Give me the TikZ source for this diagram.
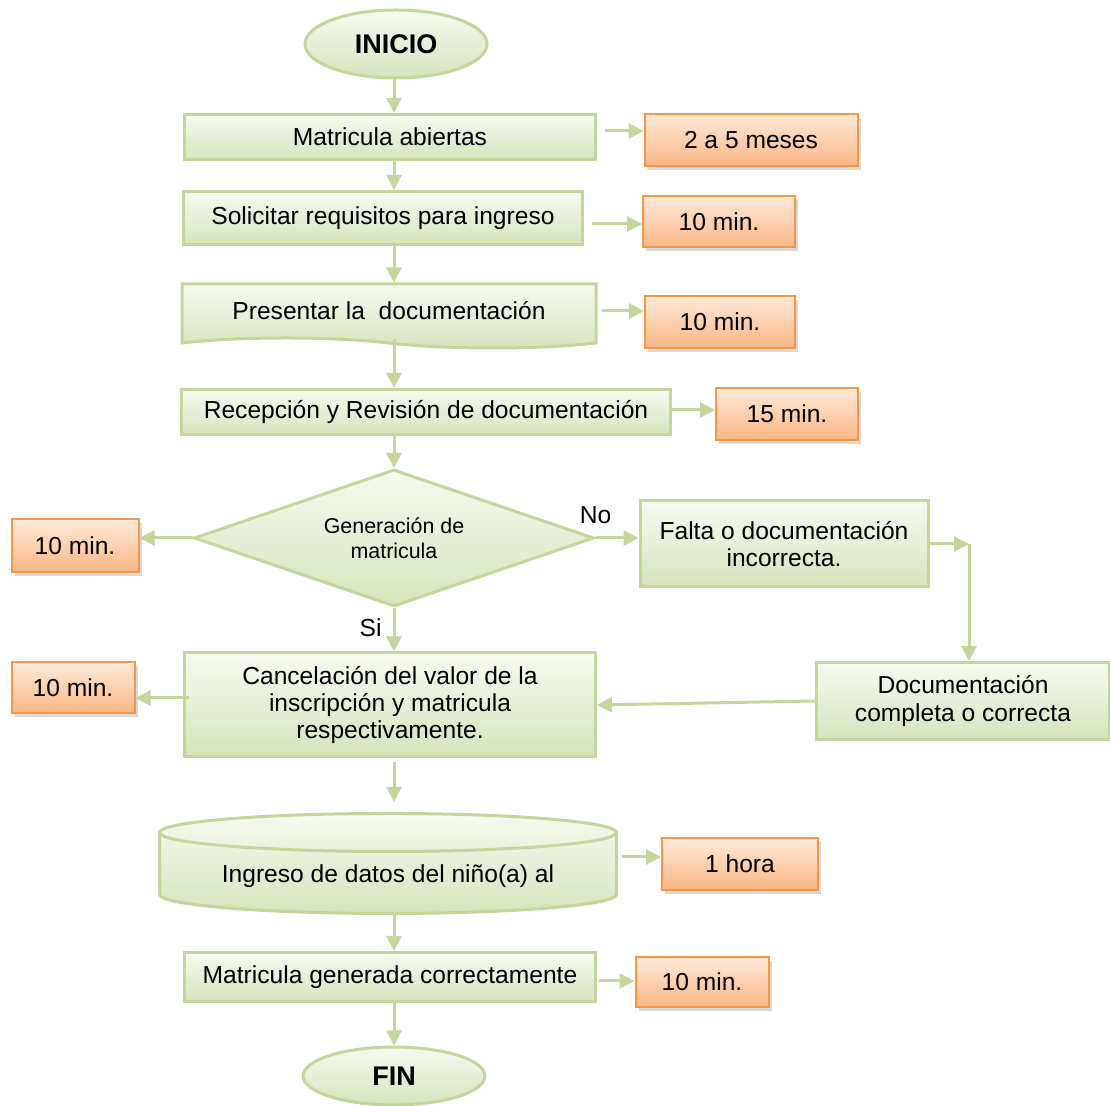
\documentclass[tikz,border=0pt]{standalone}
\usepackage{fontspec}
\setmainfont{Liberation Sans}
\usetikzlibrary{positioning}
\usetikzlibrary{arrows.meta}
\usetikzlibrary{shapes.geometric}
\usetikzlibrary{shapes.symbols}
\usetikzlibrary{shadows}

\definecolor{lineg}{RGB}{195,214,155}
\definecolor{proctop}{RGB}{247,250,241}
\definecolor{procbot}{RGB}{214,228,188}
\definecolor{orline}{RGB}{247,150,70}
\definecolor{ortop}{RGB}{255,234,218}
\definecolor{orbot}{RGB}{250,182,132}

\tikzset{
    txt/.style={font=\fontsize{12.3}{13.7}\selectfont, align=center},
    proc/.style={txt, rectangle, draw=lineg, line width=1.5pt, top color=proctop, bottom color=procbot},
    term/.style={ellipse, draw=lineg, line width=1.5pt, top color=proctop, bottom color=procbot, font=\fontsize{13.5}{15}\selectfont\bfseries},
    decision/.style={diamond, aspect=2.9, inner sep=1pt, draw=lineg, line width=1.5pt, top color=proctop, bottom color=procbot, font=\fontsize{10.7}{12.5}\selectfont, align=center},
    docbox/.style={proc, tape, tape bend top=none, tape bend bottom=out and in, tape bend height=5pt},
    dbase/.style={proc, cylinder, shape border rotate=90, aspect=0.11},
    orng/.style={txt, rectangle, draw=orline, line width=1pt, top color=ortop, bottom color=orbot, drop shadow={shadow xshift=1.5pt, shadow yshift=-2pt, opacity=0.3}},
    lbl/.style={txt, inner sep=0pt},
    flow/.style={draw=lineg, line width=1.5pt, -{Triangle[length=7.5pt,width=7.5pt]}}
}

\begin{document}
\begin{tikzpicture}[x=0.5pt, y=-0.5pt]
    \useasboundingbox (0,0) rectangle (1110,1106);
    \coordinate (axis) at (394,0);

    \node (inicio) [term, minimum width=91pt, minimum height=34pt] at (396,44) {INICIO};
    \node (matab) [proc, minimum width=205.5pt, minimum height=22.5pt] at (390,137) {Matricula abiertas};
    \node (t1) [orng, minimum width=106.5pt, minimum height=26pt] at (751,140) {2 a 5 meses};
    \node (solic) [proc, minimum width=199.5pt, minimum height=26.5pt] at (383,218) {Solicitar requisitos para ingreso};
    \node (t2) [orng, minimum width=76pt, minimum height=25.5pt] at (719,222) {10 min.};
    \node (present) [docbox, minimum width=207pt, minimum height=32pt] at (389,311) {Presentar la~ documentación};
    \node (t3) [orng, minimum width=75pt, minimum height=26pt] at (720,322) {10 min.};
    \node (recep) [proc, minimum width=244.5pt, minimum height=22.5pt] at (426,412) {Recepción y Revisión de documentación};
    \node (t4) [orng, minimum width=71pt, minimum height=26pt] at (787,414) {15 min.};

    \node (gen) [decision, minimum width=200pt, minimum height=68.5pt] at (394,538) {Generación de\\matricula};
    \node (t5) [orng, minimum width=63.5pt, minimum height=26.5pt] at (75,546) {10 min.};
    \node (falta) [proc, minimum width=144pt, minimum height=43pt] at (784,544) {Falta o documentación\\incorrecta.};
    \coordinate (bend) at (969,544);
    \node (docok) [proc, minimum width=146.5pt, minimum height=38.5pt] at (963,701) {Documentación\\completa o correcta};
    \node (cancel) [proc, minimum width=205.5pt, minimum height=52pt] at (390,705) {Cancelación del valor de la\\inscripción y matricula\\respectivamente.};
    \node (t6) [orng, minimum width=61.5pt, minimum height=25.5pt] at (73,688) {10 min.};

    \node (ingreso) [dbase, minimum width=228.5pt, minimum height=50pt] at (388,876) {Ingreso de datos del niño(a) al};
    \node (t7) [orng, minimum width=78pt, minimum height=26pt] at (740,864) {1 hora};
    \node (generada) [proc, minimum width=205.5pt, minimum height=24.5pt] at (390,977) {Matricula generada correctamente};
    \node (t8) [orng, minimum width=66.5pt, minimum height=25pt] at (702,982) {10 min.};
    \node (fin) [term, minimum width=91pt, minimum height=29pt] at (394,1076) {FIN};

    \node (no) [lbl, above=7pt of gen.east] {No};
    \node (si) [lbl, below left=5pt and 6pt of gen.south] {Si};

    % main column
    \draw [flow] (inicio.south -| axis) -- (matab.north -| axis);
    \draw [flow] (matab.south -| axis) -- (solic.north -| axis);
    \draw [flow] (solic.south -| axis) -- (present.north -| axis);
    \draw [flow] (present.south -| axis) -- (recep.north -| axis);
    \draw [flow] (recep.south -| axis) -- (gen.north);
    \draw [flow] (gen.south) -- (cancel.north -| axis);
    \draw [flow, shorten <=2pt, shorten >=5pt] (cancel.south -| axis) -- (ingreso.north -| axis);
    \draw [flow] (ingreso.south -| axis) -- (generada.north -| axis);
    \draw [flow] (generada.south -| axis) -- (fin.north -| axis);

    % times
    \draw [flow] ([xshift=4pt, yshift=3pt]matab.east) -- ([yshift=3pt]matab.east -| t1.west);
    \draw [flow] ([xshift=4pt, yshift=-3pt]solic.east) -- ([yshift=-3pt]solic.east -| t2.west);
    \draw [flow] ([xshift=2pt, yshift=0pt]present.east) -- ([yshift=0pt]present.east -| t3.west);
    \draw [flow] ([yshift=1pt]recep.east) -- ([yshift=1pt]recep.east -| t4.west);
    \draw [flow] (gen.west) -- (gen.west -| t5.east);
    \draw [flow] ([xshift=3pt, yshift=3.5pt]cancel.west) -- ([yshift=3.5pt]cancel.west -| t6.east);
    \draw [flow] ([xshift=2pt, yshift=9.5pt]ingreso.east) -- ([yshift=9.5pt]ingreso.east -| t7.west);
    \draw [flow] ([xshift=1pt, yshift=-2pt]generada.east) -- ([yshift=-2pt]generada.east -| t8.west);

    % loop
    \draw [flow] (gen.east) -- (gen.east -| falta.west);
    \draw [flow] (falta.east) -- (bend);
    \draw [flow] (bend) -- (bend |- docok.north);
    \draw [flow] (docok.west) -- (cancel.east);
\end{tikzpicture}
\end{document}
